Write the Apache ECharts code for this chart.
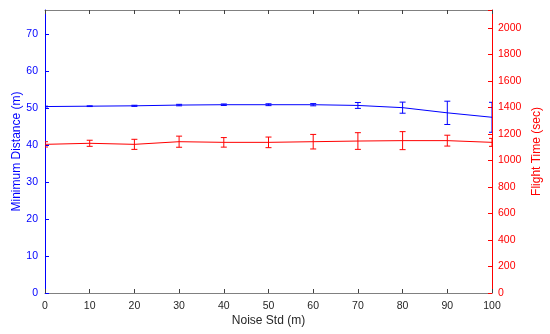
<!DOCTYPE html>
<html>
<head>
<meta charset="utf-8">
<script src="https://cdn.jsdelivr.net/npm/echarts@6/dist/echarts.min.js"></script>
<style>
html,body{margin:0;padding:0;background:#fff;}
#chart{width:550px;height:334px;}
</style>
</head>
<body>
<div id="chart"></div>
<script>
const noiseStd = [0, 10, 20, 30, 40, 50, 60, 70, 80, 90, 100];
const minDistance = [50.4, 50.5, 50.6, 50.8, 50.9, 50.9, 50.9, 50.7, 50.1, 48.7, 47.5];
const minDistanceErr = [0.1, 0.1, 0.15, 0.2, 0.2, 0.25, 0.3, 0.8, 1.5, 3.15, 4.05];
const flightTime = [1122, 1130, 1122, 1142, 1137, 1137, 1142, 1147, 1150, 1150, 1137];
const flightTimeErr = [20, 23, 38, 42, 36, 40, 55, 63, 68, 41, 30];

const FONT = 'Liberation Sans, Arial, sans-serif';
const BLUE = '#0000ff';
const RED = '#ff0000';
const GRAY = '#808080';
const plain = v => String(v);

const GRID_LEFT = 45, GRID_RIGHT = 58, CHART_W = 550;
const GRID_W = CHART_W - GRID_LEFT - GRID_RIGHT;

function errData(xs, ys, es) {
  return xs.map((x, i) => [x, ys[i] - es[i], ys[i] + es[i]]);
}
function errRender(color) {
  return function (params, api) {
    const x = api.value(0);
    const lo = api.coord([x, api.value(1)]);
    const hi = api.coord([x, api.value(2)]);
    const w = 3;
    const st = { stroke: color, lineWidth: 1 };
    return {
      type: 'group',
      children: [
        { type: 'line', shape: { x1: lo[0], y1: lo[1], x2: hi[0], y2: hi[1] }, style: st },
        { type: 'line', shape: { x1: lo[0] - w, y1: lo[1], x2: lo[0] + w, y2: lo[1] }, style: st },
        { type: 'line', shape: { x1: hi[0] - w, y1: hi[1], x2: hi[0] + w, y2: hi[1] }, style: st }
      ]
    };
  };
}

const chart = echarts.init(document.getElementById('chart'));
chart.setOption({
  animation: false,
  backgroundColor: '#fff',
  grid: { left: GRID_LEFT, right: GRID_RIGHT, top: 10, bottom: 41, containLabel: false, outerBoundsMode: 'none' },
  xAxis: [
    {
      type: 'value', min: 0, max: 100, interval: 10, position: 'bottom',
      name: 'Noise Std (m)', nameLocation: 'middle', nameGap: 22, nameMoveOverlap: false,
      nameTextStyle: { fontFamily: FONT, fontSize: 12, color: '#262626' },
      axisLine: { onZero: false, lineStyle: { color: GRAY, width: 1 } },
      axisTick: { inside: true, length: 4, lineStyle: { color: '#404040' } },
      axisLabel: { fontFamily: FONT, fontSize: 10.5, color: '#262626', margin: 8, formatter: plain },
      splitLine: { show: false }
    },
    {
      type: 'value', min: 0, max: 100, interval: 10, position: 'top',
      axisLine: { onZero: false, lineStyle: { color: GRAY, width: 1 } },
      axisTick: { inside: true, length: 4, lineStyle: { color: '#404040' } },
      axisLabel: { show: false },
      splitLine: { show: false }
    }
  ],
  yAxis: [
    {
      type: 'value', min: 0, max: 76.5, interval: 10, position: 'left',
      name: 'Minimum Distance (m)', nameLocation: 'middle', nameGap: 22, nameRotate: 90, nameMoveOverlap: false,
      nameTextStyle: { fontFamily: FONT, fontSize: 12, color: BLUE },
      axisLine: { show: true, onZero: false, lineStyle: { color: BLUE, width: 1 } },
      axisTick: { show: true, inside: true, length: 4, lineStyle: { color: BLUE } },
      axisLabel: { fontFamily: FONT, fontSize: 10.5, color: BLUE, margin: 7, showMaxLabel: false, formatter: plain },
      splitLine: { show: false }
    },
    {
      type: 'value', min: 0, max: 2136, interval: 200, position: 'right',
      name: 'Flight Time (sec)', nameLocation: 'middle', nameGap: 39, nameRotate: 90, nameMoveOverlap: false,
      nameTextStyle: { fontFamily: FONT, fontSize: 12, color: RED },
      axisLine: { show: true, onZero: false, lineStyle: { color: RED, width: 1 } },
      axisTick: { show: false },
      axisLabel: { fontFamily: FONT, fontSize: 10.5, color: RED, margin: 6, showMaxLabel: false, formatter: plain },
      splitLine: { show: false }
    },
    {
      // carries the inward-pointing ticks of the right-hand (flight time) axis
      type: 'value', min: 0, max: 2136, interval: 200, position: 'left', offset: -GRID_W,
      axisLine: { show: false, onZero: false },
      axisTick: { show: true, inside: false, length: 4, lineStyle: { color: RED } },
      axisLabel: { show: false },
      splitLine: { show: false }
    }
  ],
  series: [
    {
      type: 'line', xAxisIndex: 0, yAxisIndex: 1,
      data: noiseStd.map((x, i) => [x, flightTime[i]]),
      showSymbol: false, symbol: 'none',
      lineStyle: { color: RED, width: 1 }, z: 2
    },
    {
      type: 'custom', xAxisIndex: 0, yAxisIndex: 1, clip: true,
      data: errData(noiseStd, flightTime, flightTimeErr),
      renderItem: errRender(RED), z: 2
    },
    {
      type: 'line', xAxisIndex: 0, yAxisIndex: 0,
      data: noiseStd.map((x, i) => [x, minDistance[i]]),
      showSymbol: false, symbol: 'none',
      lineStyle: { color: BLUE, width: 1 }, z: 3
    },
    {
      type: 'custom', xAxisIndex: 0, yAxisIndex: 0, clip: true,
      data: errData(noiseStd, minDistance, minDistanceErr),
      renderItem: errRender(BLUE), z: 3
    }
  ]
});
</script>
</body>
</html>
